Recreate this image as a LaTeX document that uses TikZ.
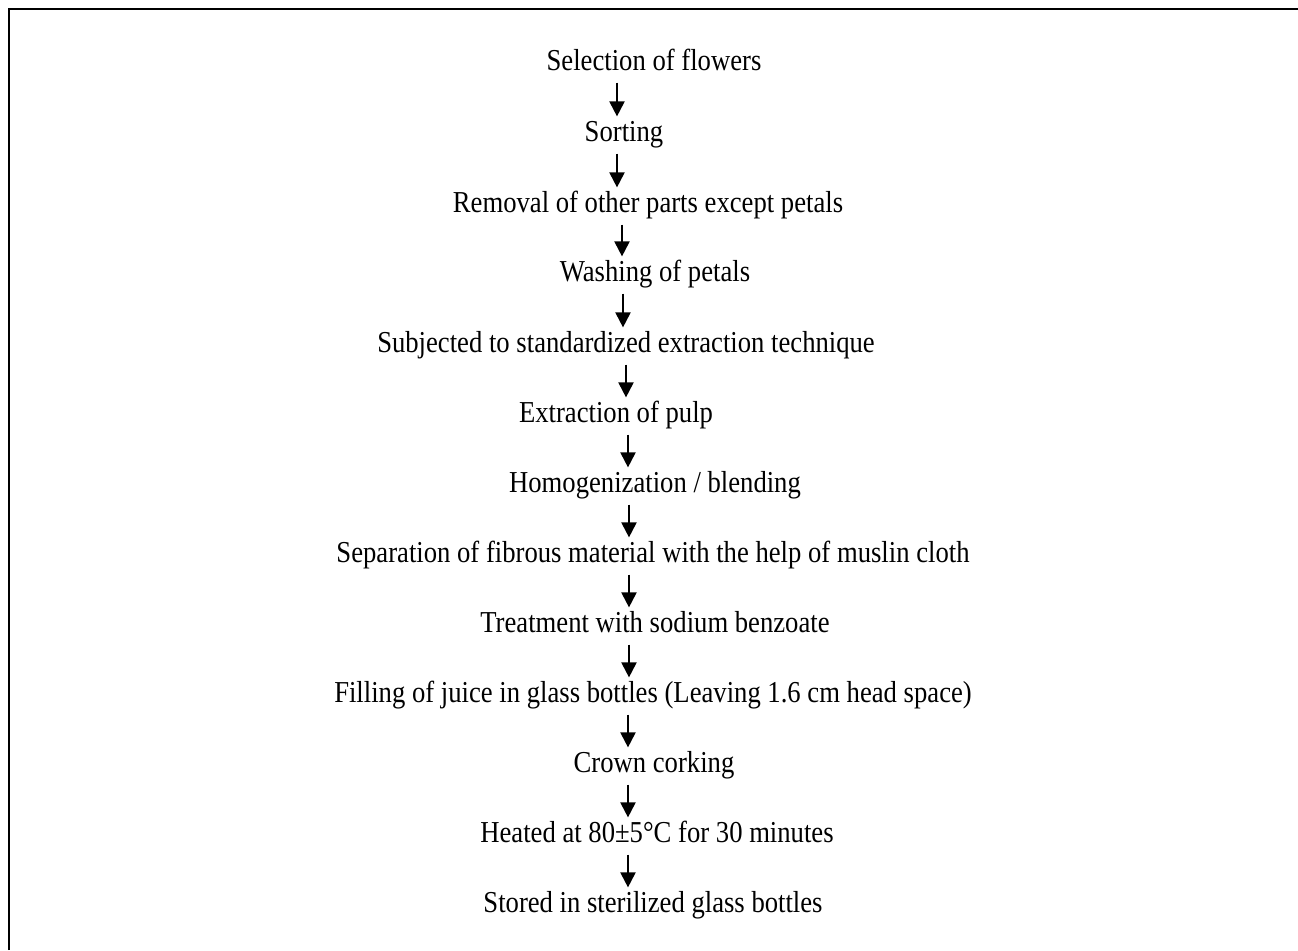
\documentclass[tikz,border=0pt]{standalone}
\usepackage{fontspec}
\setmainfont{Liberation Serif}
\newfontfamily\stagefont[FakeStretch=0.877]{Liberation Serif}
\usepackage{tikz}
\usetikzlibrary{arrows.meta}

\begin{document}
\begin{tikzpicture}[
  x=0.5pt, y=-0.5pt,
  stage/.style={anchor=base, inner sep=0pt, outer sep=3pt,
                text height=9.3pt, text depth=3.3pt,
                font=\stagefont\fontsize{15.2}{18}\selectfont},
  arr/.style={-{Triangle[length=7.5pt, width=7.5pt]}, line width=1pt}
]
\useasboundingbox (0,0) rectangle (1298,950);
\draw[line width=1pt] (8.5,950) -- (8.5,8.5) -- (1298,8.5);

\node[stage] (sel)  at (654,70)  {Selection of flowers};
\node[stage] (sort) at (624,141) {Sorting};
\node[stage] (rem)  at (648,212) {Removal of other parts except petals};
\node[stage] (wash) at (655,281) {Washing of petals};
\node[stage] (sub)  at (626,352) {Subjected to standardized extraction technique};
\node[stage] (ext)  at (616,422) {Extraction of pulp};
\node[stage] (hom)  at (655,492) {Homogenization / blending};
\node[stage] (sep)  at (653,562) {Separation of fibrous material with the help of muslin cloth};
\node[stage] (trt)  at (655,632) {Treatment with sodium benzoate};
\node[stage] (fill) at (653,702) {Filling of juice in glass bottles (Leaving 1.6 cm head space)};
\node[stage] (crw)  at (654,772) {Crown corking};
\node[stage] (heat) at (657,842) {Heated at 80±5°C for 30 minutes};
\node[stage] (sto)  at (653,912) {Stored in sterilized glass bottles};

\draw[arr] (sel.south -| 617,0)  -- (sort.north -| 617,0);
\draw[arr] (sort.south -| 617,0) -- (rem.north -| 617,0);
\draw[arr] (rem.south -| 622,0)  -- (wash.north -| 622,0);
\draw[arr] (wash.south -| 623,0) -- (sub.north -| 623,0);
\draw[arr] (sub.south -| 626,0)  -- (ext.north -| 626,0);
\draw[arr] (ext.south -| 628,0)  -- (hom.north -| 628,0);
\draw[arr] (hom.south -| 629,0)  -- (sep.north -| 629,0);
\draw[arr] (sep.south -| 629,0)  -- (trt.north -| 629,0);
\draw[arr] (trt.south -| 629,0)  -- (fill.north -| 629,0);
\draw[arr] (fill.south -| 628,0) -- (crw.north -| 628,0);
\draw[arr] (crw.south -| 628,0)  -- (heat.north -| 628,0);
\draw[arr] (heat.south -| 628,0) -- (sto.north -| 628,0);
\end{tikzpicture}
\end{document}
